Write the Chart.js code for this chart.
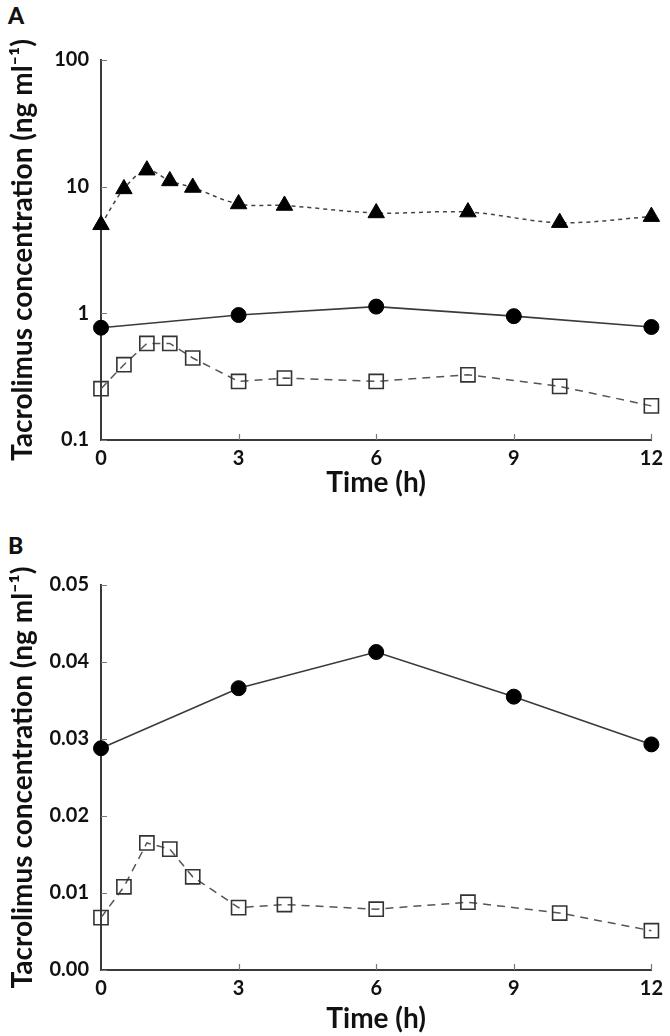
<!DOCTYPE html>
<html>
<head>
<meta charset="utf-8">
<script src="https://cdn.jsdelivr.net/npm/chart.js@4.4.1/dist/chart.umd.min.js"></script>
<style>
  html, body { margin: 0; padding: 0; background: #fff; }
  body { width: 670px; height: 1036px; position: relative; overflow: hidden; font-family: Lato, "DejaVu Sans", sans-serif; }
  .panel { position: absolute; left: 0; width: 670px; }
  .lbl { position: absolute; font: 900 23px Lato, sans-serif; color: #111; }
</style>
</head>
<body>
<div class="lbl" style="left:8px; top:1px;">A</div>
<div class="lbl" style="left:8px; top:531px;">B</div>
<div class="panel" style="top:0; height:500px;"><canvas id="chartA" width="670" height="500"></canvas></div>
<div class="panel" style="top:520px; height:516px;"><canvas id="chartB" width="670" height="516"></canvas></div>
<script>
// ---- data ----
const timesFull = [0, 0.5, 1, 1.5, 2, 3, 4, 6, 8, 10, 12];
const timesSparse = [0, 3, 6, 9, 12];

// Panel A (log scale)
const triangleA = [5.0, 9.6, 13.5, 11.1, 9.85, 7.3, 7.1, 6.2, 6.3, 5.2, 5.8];
const circleA = [0.77, 0.97, 1.13, 0.95, 0.78];
const squareA = [0.254, 0.393, 0.578, 0.578, 0.444, 0.29, 0.308, 0.29, 0.327, 0.265, 0.186];

// Panel B (linear scale)
const circleB = [0.0288, 0.0366, 0.0413, 0.0355, 0.0293];
const squareB = [0.0068, 0.0108, 0.0165, 0.0157, 0.0121, 0.0081, 0.0085, 0.0079, 0.0088, 0.0074, 0.0051];

// ticks
const xTicks = [0, 3, 6, 9, 12];
const yTicksA = [0.1, 1, 10, 100];
const yTickLabelsA = ['0.1', '1', '10', '100'];
const yTicksB = [0, 0.01, 0.02, 0.03, 0.04, 0.05];
const yTickLabelsB = ['0.00', '0.01', '0.02', '0.03', '0.04', '0.05'];

const xTitle = 'Time (h)';
const yTitle = 'Tacrolimus concentration (ng ml\u207B\u00B9)';

// ---- helpers ----
const pts = (xs, ys) => xs.map((x, i) => ({ x: x, y: ys[i] }));
const FONT = 'Lato, "DejaVu Sans", sans-serif';
const AXIS_COLOR = '#3a3a3a';

const inwardTicks = {
  id: 'inwardTicks',
  afterDatasetsDraw(chart, args, opts) {
    const ctx = chart.ctx;
    const xs = chart.scales.x, ys = chart.scales.y;
    const yv = (opts && opts.values) || [];
    ctx.save();
    ctx.strokeStyle = '#777';
    ctx.lineWidth = 1.2;
    ctx.beginPath();
    yv.forEach(v => {
      const py = Math.round(ys.getPixelForValue(v)) + 0.5;
      ctx.moveTo(xs.left, py);
      ctx.lineTo(xs.left + 6, py);
    });
    xTicks.forEach(v => {
      if (v === xs.min) return;
      const px = Math.round(xs.getPixelForValue(v)) + 0.5;
      ctx.moveTo(px, ys.bottom);
      ctx.lineTo(px, ys.bottom - 6);
    });
    ctx.stroke();
    ctx.restore();
  }
};

function makeChart(id, datasets, yOpts, yTicks, yLabels, padTop, xAxisHeight) {
  return new Chart(document.getElementById(id), {
    type: 'line',
    data: { datasets: datasets },
    plugins: [inwardTicks],
    options: {
      responsive: false,
      animation: false,
      devicePixelRatio: 1,
      layout: { padding: { left: 0, right: 13, top: padTop, bottom: 0 } },
      plugins: { legend: { display: false }, tooltip: { enabled: false }, inwardTicks: { values: yTicks } },
      scales: {
        x: {
          type: 'linear', min: 0, max: 12,
          afterBuildTicks: s => { s.ticks = xTicks.map(v => ({ value: v })); },
          afterFit: s => { s.height = xAxisHeight; },
          grid: { display: false, drawTicks: false },
          border: { display: true, color: AXIS_COLOR, width: 2 },
          ticks: { color: '#111', font: { family: FONT, size: 20, weight: 'bold' }, padding: 7, maxRotation: 0,
                   callback: v => String(v) },
          title: { display: true, text: xTitle, color: '#111', font: { family: FONT, size: 28, weight: 'bold' }, padding: { top: 0, bottom: 0 } }
        },
        y: Object.assign({
          afterBuildTicks: s => { s.ticks = yTicks.map(v => ({ value: v })); },
          afterFit: s => { s.width = 101; },
          grid: { display: false, drawTicks: false },
          border: { display: true, color: AXIS_COLOR, width: 2 },
          ticks: { color: '#111', font: { family: FONT, size: 20, weight: 'bold' }, padding: 12,
                   callback: (v) => { const i = yTicks.findIndex(t => Math.abs(t - v) < 1e-9); return i >= 0 ? yLabels[i] : ''; } },
          title: { display: true, text: yTitle, color: '#111', font: { family: FONT, size: 28, weight: 'bold' }, padding: { top: 6, bottom: 0 } }
        }, yOpts)
      }
    }
  });
}

const triStyle = {
  borderColor: '#444', borderWidth: 1.5, borderDash: [4, 4],
  pointStyle: 'triangle', pointRadius: 9.5, pointBackgroundColor: '#000', pointBorderColor: '#000', pointBorderWidth: 1,
  tension: 0.35, clip: false, fill: false
};
const circStyle = {
  borderColor: '#3a3a3a', borderWidth: 1.6,
  pointStyle: 'circle', pointRadius: 7.5, pointBackgroundColor: '#000', pointBorderColor: '#000', pointBorderWidth: 1,
  tension: 0, clip: false, fill: false
};
const sqStyle = {
  borderColor: '#555', borderWidth: 1.5, borderDash: [8, 6],
  pointStyle: 'rect', pointRadius: 10, pointBackgroundColor: 'rgba(255,255,255,0)', pointBorderColor: '#333', pointBorderWidth: 1.6,
  tension: 0, clip: false, fill: false
};

makeChart('chartA', [
  Object.assign({ label: 'Triangle', data: pts(timesFull, triangleA) }, triStyle),
  Object.assign({ label: 'Circle', data: pts(timesSparse, circleA) }, circStyle),
  Object.assign({ label: 'Square', data: pts(timesFull, squareA) }, sqStyle)
], { type: 'logarithmic', min: 0.1, max: 100 }, yTicksA, yTickLabelsA, 60, 60);

makeChart('chartB', [
  Object.assign({ label: 'Circle', data: pts(timesSparse, circleB) }, circStyle),
  Object.assign({ label: 'Square', data: pts(timesFull, squareB) }, sqStyle)
], { type: 'linear', min: 0, max: 0.05 }, yTicksB, yTickLabelsB, 65, 66);
</script>
</body>
</html>
